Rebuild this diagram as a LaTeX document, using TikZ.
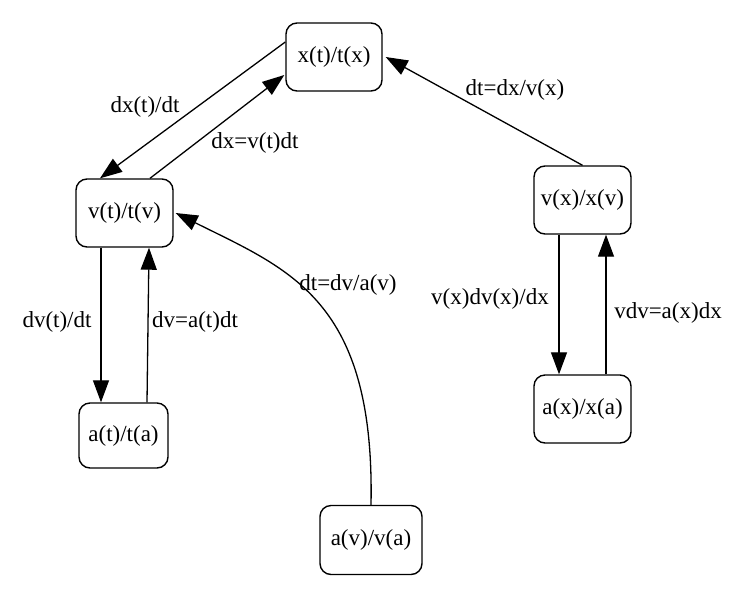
\documentclass[tikz,border=0pt]{standalone}
\usepackage{fontspec}
\setmainfont{Liberation Serif}
\usetikzlibrary{arrows.meta,calc}
\begin{document}
\begin{tikzpicture}[x=1pt,y=-1pt,
  box/.style={draw,line width=1.4pt,rounded corners=11pt,inner sep=0pt,
    font=\fontsize{23}{26}\selectfont},
  lbl/.style={font=\fontsize{23}{26}\selectfont,inner sep=0pt},
  edge/.style={line width=1.3pt,-{Triangle[length=22pt,width=16pt]}}]
\useasboundingbox (0,0) rectangle (751,600);
\node[box,minimum width=96pt,minimum height=68pt] (x) at (334,57) {x(t)/t(x)};
\node[box,minimum width=97pt,minimum height=68pt] (vt) at (124.5,213) {v(t)/t(v)};
\node[box,minimum width=89pt,minimum height=65pt] (at) at (123.5,435.5) {a(t)/t(a)};
\node[box,minimum width=102pt,minimum height=69pt] (av) at (371,540) {a(v)/v(a)};
\node[box,minimum width=97pt,minimum height=68pt] (vx) at (582.5,200) {v(x)/x(v)};
\node[box,minimum width=97pt,minimum height=68pt] (ax) at (582.5,409) {a(x)/x(a)};
% edges
\draw[edge] ($(x.west)+(0,-15)$) -- ($(vt.north)+(-24.5,0)$);
\node[lbl] (l1) at (145,107) {dx(t)/dt};
\draw[edge] ($(vt.north)+(25.5,0)$) -- ($(x.west)+(-1,18)$);
\node[lbl] (l2) at (255,143) {dx=v(t)dt};
\draw[edge] (vx.north) -- ($(x.east)+(3,0)$);
\node[lbl] (l3) at (515,90) {dt=dx/v(x)};
\draw[edge] ($(vt.south)+(-23.5,0)$) -- ($(at.north)+(-22.5,0)$);
\node[lbl] (l4) at (57,322) {dv(t)/dt};
\draw[edge] ($(at.north)+(23.5,0)$) -- ($(vt.south)+(24.5,0)$);
\node[lbl] (l5) at (195,322) {dv=a(t)dt};
\draw[edge] (av.north) .. controls (375,300) and (290,270) .. ($(vt.east)+(2,0)$);
\node[lbl] (l6) at (348,285) {dt=dv/a(v)};
\draw[edge] ($(vx.south)+(-23.5,0)$) -- ($(ax.north)+(-23.5,0)$);
\node[lbl] (l7) at (490,299) {v(x)dv(x)/dx};
\draw[edge] ($(ax.north)+(23.5,0)$) -- ($(vx.south)+(23.5,0)$);
\node[lbl] (l8) at (668,313) {vdv=a(x)dx};
\end{tikzpicture}
\end{document}
